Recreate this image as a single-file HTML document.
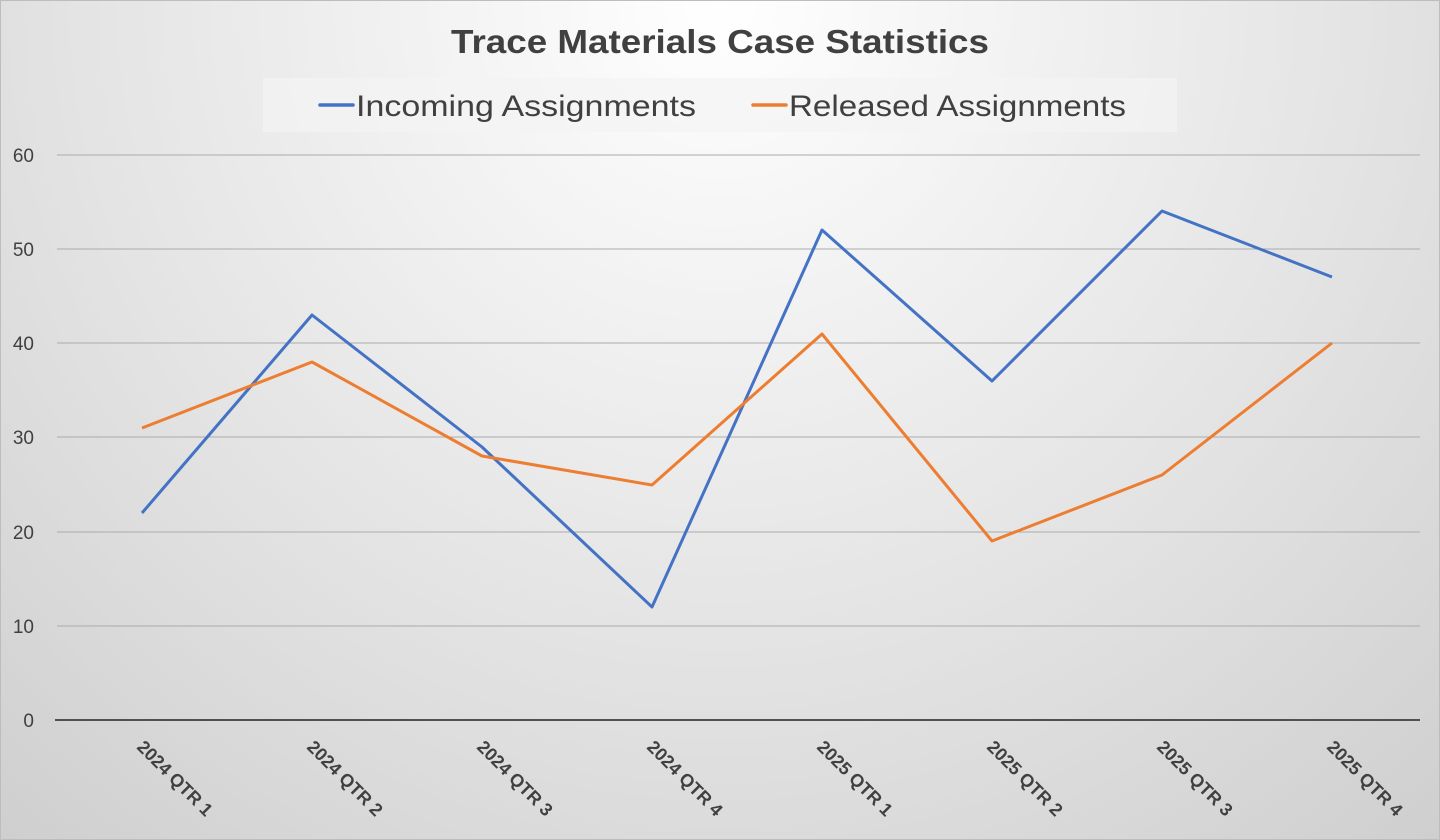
<!DOCTYPE html>
<html><head><meta charset="utf-8"><style>
html,body{margin:0;padding:0;width:1440px;height:840px;overflow:hidden}
svg{display:block}
text{font-family:"Liberation Sans","DejaVu Sans",sans-serif;fill:#404040}
</style></head><body>
<svg width="1440" height="840" viewBox="0 0 1440 840" xmlns="http://www.w3.org/2000/svg">
<defs>
<radialGradient id="bg" cx="720" cy="0" r="1100" gradientUnits="userSpaceOnUse">
<stop offset="0" stop-color="#ffffff"/>
<stop offset="0.6" stop-color="#e3e3e3"/>
<stop offset="1" stop-color="#cfcfcf"/>
</radialGradient>
</defs>
<rect x="0" y="0" width="1440" height="840" fill="url(#bg)"/>
<rect x="0.5" y="0.5" width="1439" height="839" fill="none" stroke="#bdbdbd"/>
<text x="720" y="53" text-anchor="middle" font-size="33" font-weight="bold" textLength="538" lengthAdjust="spacingAndGlyphs">Trace Materials Case Statistics</text>
<rect x="263" y="78" width="914" height="54" fill="#f3f3f3" opacity="0.7"/>
<line x1="320" y1="105" x2="353" y2="105" stroke="#4472c4" stroke-width="3.5" stroke-linecap="round"/>
<text x="356" y="116" font-size="30" textLength="340" lengthAdjust="spacingAndGlyphs">Incoming Assignments</text>
<line x1="753" y1="105" x2="786" y2="105" stroke="#ed7d31" stroke-width="3.5" stroke-linecap="round"/>
<text x="789" y="116" font-size="30" textLength="337" lengthAdjust="spacingAndGlyphs">Released Assignments</text>
<g stroke="#ababab" stroke-width="1">
<line x1="57" y1="155" x2="1420" y2="155"/>
<line x1="57" y1="249" x2="1420" y2="249"/>
<line x1="57" y1="343" x2="1420" y2="343"/>
<line x1="57" y1="437" x2="1420" y2="437"/>
<line x1="57" y1="532" x2="1420" y2="532"/>
<line x1="57" y1="626" x2="1420" y2="626"/>
</g>
<line x1="55" y1="720" x2="1420" y2="720" stroke="#505050" stroke-width="2"/>
<g font-size="19" text-anchor="end">
<text x="34" y="162">60</text><text x="34" y="256">50</text><text x="34" y="350">40</text>
<text x="34" y="444">30</text><text x="34" y="539">20</text><text x="34" y="633">10</text>
<text x="34" y="727">0</text>
</g>
<g font-size="18" font-weight="bold" fill="#404040">
<text transform="translate(136,748) rotate(45)">2024 QTR 1</text>
<text transform="translate(306,748) rotate(45)">2024 QTR 2</text>
<text transform="translate(476,748) rotate(45)">2024 QTR 3</text>
<text transform="translate(646,748) rotate(45)">2024 QTR 4</text>
<text transform="translate(816,748) rotate(45)">2025 QTR 1</text>
<text transform="translate(986,748) rotate(45)">2025 QTR 2</text>
<text transform="translate(1156,748) rotate(45)">2025 QTR 3</text>
<text transform="translate(1326,748) rotate(45)">2025 QTR 4</text>
</g>
<polyline fill="none" stroke="#4472c4" stroke-width="3" stroke-linejoin="round" points="142,513 312,315 482,447 652,607 822,230 992,381 1162,211 1332,277"/>
<polyline fill="none" stroke="#ed7d31" stroke-width="3" stroke-linejoin="round" points="142,428 312,362 482,456 652,485 822,334 992,541 1162,475 1332,343"/>
</svg>
</body></html>
